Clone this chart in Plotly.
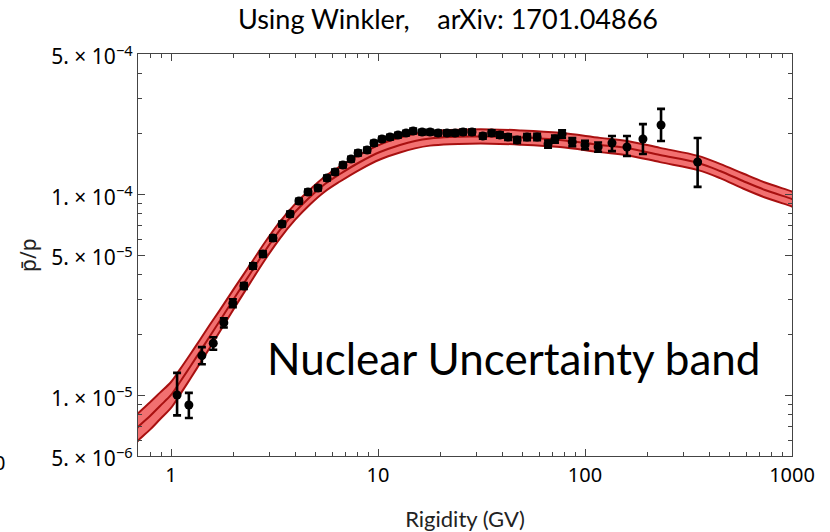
import plotly.graph_objects as go

# Nuclear-uncertainty band for the antiproton/proton ratio (rigidity in GV):
# central curve and its relative half-width
band_rigidity = [0.65, 0.693, 0.792, 0.885, 1.0, 1.105, 1.235, 1.381, 1.543, 1.725,
                 2.038, 2.408, 2.846, 3.362, 3.972, 4.693, 5.546, 6.553, 8.185, 10.22,
                 12.77, 15.08, 17.83, 22.26, 27.8, 34.76, 48.53, 75.7, 118.2, 159.6,
                 230.3, 351.6, 449, 580, 740.6, 1000, 1093]
band_center = [6.45e-6, 6.97e-6, 7.91e-6, 8.87e-6, 1.006e-5, 1.167e-5, 1.386e-5, 1.655e-5, 1.977e-5, 2.361e-5,
               3.09e-5, 4.022e-5, 5.235e-5, 6.66e-5, 8.18e-5, 9.72e-5, 1.128e-4, 1.265e-4, 1.451e-4, 1.627e-4,
               1.763e-4, 1.845e-4, 1.899e-4, 1.932e-4, 1.943e-4, 1.943e-4, 1.921e-4, 1.867e-4, 1.763e-4, 1.703e-4,
               1.572e-4, 1.434e-4, 1.309e-4, 1.167e-4, 1.053e-4, 9.50e-5, 9.18e-5]
band_halfwidth = [0.17, 0.17, 0.17, 0.165, 0.16, 0.155, 0.15, 0.145, 0.14, 0.13,
                  0.12, 0.11, 0.105, 0.10, 0.095, 0.09, 0.09, 0.09, 0.09, 0.09,
                  0.09, 0.088, 0.085, 0.085, 0.085, 0.085, 0.085, 0.085, 0.085, 0.085,
                  0.085, 0.085, 0.085, 0.09, 0.09, 0.09, 0.09]

band_upper = [c * (1 + h) for c, h in zip(band_center, band_halfwidth)]
band_lower = [c / (1 + h) for c, h in zip(band_center, band_halfwidth)]

# Measured pbar/p ratio with errors
data_rigidity = [1.07, 1.22, 1.41, 1.60, 1.80, 1.99, 2.25, 2.49, 2.78, 3.11,
                 3.44, 3.76, 4.15, 4.59, 5.13, 5.67, 6.20, 6.77, 7.41, 8.01,
                 8.86, 9.56, 10.45, 11.43, 12.5, 13.67, 14.79, 16.33, 17.85, 19.52,
                 21.54, 23.56, 25.76, 28.45, 32.1, 35.4, 38.8, 42.5, 47.0, 52.5,
                 58.7, 66.3, 71.6, 77.5, 86.8, 100, 115.7, 135, 159.5, 190.5,
                 233, 350]
data_ratio = [1.006e-5, 8.97e-6, 1.58e-5, 1.82e-5, 2.30e-5, 2.88e-5, 3.505e-5, 4.41e-5, 5.06e-5, 6.07e-5,
              7.13e-5, 8.0e-5, 9.28e-5, 1.029e-4, 1.077e-4, 1.208e-4, 1.294e-4, 1.402e-4, 1.502e-4, 1.609e-4,
              1.665e-4, 1.804e-4, 1.889e-4, 1.932e-4, 1.977e-4, 2.023e-4, 2.070e-4, 2.046e-4, 2.046e-4, 2.023e-4,
              2.023e-4, 2.023e-4, 2.046e-4, 2.046e-4, 1.954e-4, 2.023e-4, 1.977e-4, 1.932e-4, 1.867e-4, 1.932e-4,
              1.932e-4, 1.783e-4, 1.889e-4, 2.0e-4, 1.824e-4, 1.763e-4, 1.723e-4, 1.804e-4, 1.723e-4, 1.889e-4,
              2.217e-4, 1.451e-4]
data_err_up = [2.9e-6, 1.33e-6, 1.6e-6, 1.3e-6, 1.2e-6, 1.3e-6, 1.2e-6, 1.4e-6, 1.5e-6, 1.8e-6,
               2.0e-6, 2.2e-6, 2.5e-6, 2.8e-6, 2.9e-6, 3.3e-6, 3.5e-6, 3.8e-6, 4.0e-6, 4.3e-6,
               4.5e-6, 4.8e-6, 5.0e-6, 5.2e-6, 5.3e-6, 5.4e-6, 5.6e-6, 5.5e-6, 5.5e-6, 5.5e-6,
               5.5e-6, 5.6e-6, 5.8e-6, 5.9e-6, 5.8e-6, 6.1e-6, 6.2e-6, 6.2e-6, 6.3e-6, 6.8e-6,
               7.0e-6, 7.2e-6, 7.8e-6, 8.5e-6, 8.3e-6, 8.5e-6, 9.0e-6, 1.5e-5, 2.3e-5, 3.5e-5,
               4.5e-5, 4.6e-5]
data_err_down = [2.1e-6, 1.24e-6, 1.5e-6, 1.3e-6, 1.2e-6, 1.3e-6, 1.2e-6, 1.4e-6, 1.5e-6, 1.8e-6,
                 2.0e-6, 2.2e-6, 2.5e-6, 2.8e-6, 2.9e-6, 3.3e-6, 3.5e-6, 3.8e-6, 4.0e-6, 4.3e-6,
                 4.5e-6, 4.8e-6, 5.0e-6, 5.2e-6, 5.3e-6, 5.4e-6, 5.6e-6, 5.5e-6, 5.5e-6, 5.5e-6,
                 5.5e-6, 5.6e-6, 5.8e-6, 5.9e-6, 5.8e-6, 6.1e-6, 6.2e-6, 6.2e-6, 6.3e-6, 6.8e-6,
                 7.0e-6, 7.2e-6, 7.8e-6, 8.5e-6, 8.3e-6, 8.5e-6, 9.0e-6, 1.6e-5, 1.7e-5, 3.0e-5,
                 3.7e-5, 3.6e-5]

# Axis ticks
x_major = [1, 10, 100, 1000]
x_major_text = ["1", "10", "100", "1000"]
x_minor = [0.7, 0.8, 0.9, 2, 3, 4, 5, 6, 7, 8, 9, 20, 30, 40, 50, 60, 70, 80, 90,
           200, 300, 400, 500, 600, 700, 800, 900]
y_major = [5e-6, 1e-5, 5e-5, 1e-4, 5e-4]
y_major_text = ["5. × 10<sup>−6</sup>", "1. × 10<sup>−5</sup>",
                "5. × 10<sup>−5</sup>", "1. × 10<sup>−4</sup>",
                "5. × 10<sup>−4</sup>"]
y_minor = [6e-6, 7e-6, 8e-6, 9e-6, 2e-5, 3e-5, 4e-5, 6e-5, 7e-5, 8e-5, 9e-5,
           2e-4, 3e-4, 4e-4]

EDGE = "#a81010"
FILL = "rgba(242,112,112,1)"

fig = go.Figure()

fig.add_trace(go.Scatter(x=band_rigidity, y=band_lower, mode="lines",
                         line=dict(color=EDGE, width=2, shape="spline"),
                         hoverinfo="skip", showlegend=False))
fig.add_trace(go.Scatter(x=band_rigidity, y=band_upper, mode="lines",
                         line=dict(color=EDGE, width=2, shape="spline"),
                         fill="tonexty", fillcolor=FILL,
                         hoverinfo="skip", showlegend=False))
fig.add_trace(go.Scatter(x=band_rigidity, y=band_center, mode="lines",
                         line=dict(color=EDGE, width=2, shape="spline"),
                         hoverinfo="skip", showlegend=False))

fig.add_trace(go.Scatter(
    x=data_rigidity, y=data_ratio, mode="markers",
    marker=dict(symbol="circle", size=9, color="black"),
    error_y=dict(type="data", symmetric=False, array=data_err_up,
                 arrayminus=data_err_down, color="black", thickness=2.6, width=4),
    showlegend=False,
))

axis_common = dict(
    showline=True, linecolor="#444444", linewidth=1.2, mirror="ticks",
    ticks="inside", ticklen=7, tickwidth=1, tickcolor="#444444",
    showgrid=False, zeroline=False, automargin=False,
)

fig.update_xaxes(
    type="log", range=[-0.1594, 3.0],
    tickmode="array", tickvals=x_major, ticktext=x_major_text,
    tickfont=dict(family="Noto Sans", size=20, color="black"),
    ticklabelstandoff=1,
    minor=dict(tickvals=x_minor, ticks="inside", ticklen=4, tickcolor="#444444"),
    title=dict(text="Rigidity (GV)", font=dict(family="Lato", size=22, color="#222222"),
               standoff=29),
    **axis_common,
)
fig.update_yaxes(
    type="log", range=[-5.30103, -3.30103],
    tickmode="array", tickvals=y_major, ticktext=y_major_text,
    tickfont=dict(family="Noto Sans", size=21, color="black"),
    ticklabelshift=3,
    minor=dict(tickvals=y_minor, ticks="inside", ticklen=4, tickcolor="#444444"),
    **axis_common,
)

fig.update_layout(
    width=830, height=532,
    margin=dict(l=138, r=38, t=54, b=76, autoexpand=False),
    paper_bgcolor="white", plot_bgcolor="white",
    title=dict(text="Using Winkler,\u00a0\u00a0\u00a0 arXiv: 1701.04866",
               font=dict(family="Lato", size=27, color="black"),
               x=448 / 830, xanchor="center", y=1 - 20 / 532, yanchor="middle"),
    annotations=[
        # y-axis label
        dict(text="p̄/p", xref="paper", yref="paper",
             x=(28 - 138) / 654, y=(456 - 255) / 402, xanchor="center", yanchor="middle",
             textangle=-90, showarrow=False,
             font=dict(family="Noto Sans", size=21, color="#222222")),
        dict(text="Nuclear Uncertainty band", xref="paper", yref="paper",
             x=(513 - 138) / 654, y=(456 - 358) / 402, xanchor="center", yanchor="middle",
             showarrow=False, font=dict(family="Lato", size=44, color="black")),
        dict(text="0", xref="paper", yref="paper",
             x=(-1 - 138) / 654, y=(456 - 462) / 402, xanchor="center", yanchor="middle",
             showarrow=False, font=dict(family="Noto Sans", size=20, color="black")),
    ],
)

fig.write_html("out.html")
